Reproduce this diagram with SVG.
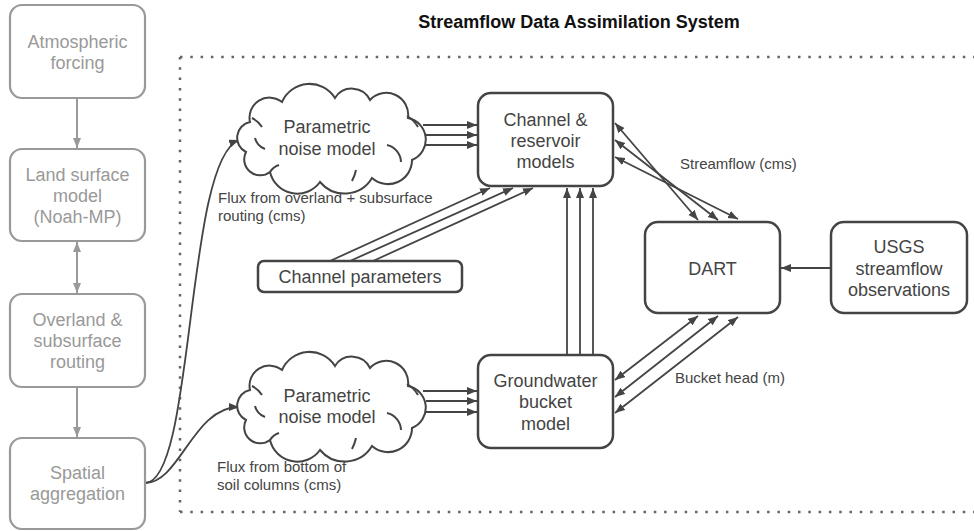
<svg xmlns="http://www.w3.org/2000/svg" width="974" height="531" viewBox="0 0 974 531">
<style>
text{font-family:"Liberation Sans",Arial,sans-serif;}
.gbox{fill:#fff;stroke:#999;stroke-width:2.2;}
.gtxt{fill:#999;font-size:18px;text-anchor:middle;}
.box{fill:#fff;stroke:#444;stroke-width:2.5;}
.txt{fill:#444;font-size:18px;text-anchor:middle;}
.lbl{fill:#444;font-size:15px;}
.cloud{fill:#fff;stroke:#444;stroke-width:2;}
.inner{fill:none;stroke:#444;stroke-width:2;}
.c{fill:none;stroke:#444;stroke-width:1.8;marker-end:url(#ah);}
.cd{fill:none;stroke:#444;stroke-width:1.8;marker-end:url(#ah);marker-start:url(#ah);}
.gc{fill:none;stroke:#999;stroke-width:2;marker-end:url(#gah);}
.gcd{fill:none;stroke:#999;stroke-width:2;marker-end:url(#gah);marker-start:url(#gah);}
</style>
<defs>
<marker id="ah" markerUnits="userSpaceOnUse" markerWidth="11" markerHeight="9" refX="10" refY="4" orient="auto-start-reverse"><path d="M0,0 L10,4 L0,8 z" fill="#444"/></marker>
<marker id="gah" markerUnits="userSpaceOnUse" markerWidth="11" markerHeight="9" refX="10" refY="4" orient="auto-start-reverse"><path d="M0,0 L10,4 L0,8 z" fill="#999"/></marker>
<g id="cloudshape">
<path class="cloud" d="M246,152 A16,16 0 0 1 250,122 A20,20 0 0 1 282,102 A30,30 0 0 1 335,98 A20,20 0 0 1 370,100 A22,22 0 0 1 408,118 A22,22 0 0 1 412,160 A24,24 0 0 1 372,178 A32,32 0 0 1 320,182 A28,28 0 0 1 270,172 A16,16 0 0 1 246,152 Z"/>
<path class="inner" d="M255,138 Q257,146 265,149 M252,118 Q258,121 262,127 M387,145 A18,18 0 0 1 401,162 M407,116 Q414,120 418,127 M270,172 Q273,167 279,165 M352,181 Q355,175 356,170"/>
</g>
</defs>
<text x="579" y="28" style="font-weight:bold;font-size:18px;fill:#111;text-anchor:middle;">Streamflow Data Assimilation System</text>
<path d="M180,57 H974 M180,57 V512 M180,512 H974" fill="none" stroke="#666" stroke-width="2.5" stroke-dasharray="2.5 7.8"/>
<g id="connectors">
<path class="gc" d="M77,98 V148"/>
<path class="gcd" d="M77,242 V293"/>
<path class="gc" d="M77,388 V437"/>
<path class="c" d="M145,483 C195,483 185,160 239,140"/>
<path class="c" d="M145,483 C180,483 193,407 239,407"/>
<path class="c" d="M423,125 H477"/>
<path class="c" d="M426,135 H477"/>
<path class="c" d="M426,145 H477"/>
<path class="c" d="M423,391 H477"/>
<path class="c" d="M426,401 H477"/>
<path class="c" d="M426,412 H477"/>
<path class="c" d="M330,261 L490,188"/>
<path class="c" d="M350,261 L513,188"/>
<path class="c" d="M373,261 L533,188"/>
<path class="c" d="M567,354 V188"/>
<path class="c" d="M580,354 V188"/>
<path class="c" d="M593,354 V188"/>
<path class="cd" d="M615,123 L698,220"/>
<path class="cd" d="M615,140 L718,220"/>
<path class="cd" d="M615,157 L738,219"/>
<path class="cd" d="M698,316 L615,380"/>
<path class="cd" d="M718,316 L615,397"/>
<path class="cd" d="M738,317 L615,413"/>
<path class="c" d="M830,268 H781"/>
<text class="lbl" x="218" y="203">Flux from overland + subsurface</text>
<text class="lbl" x="218" y="221">routing (cms)</text>
<text class="lbl" x="217" y="472">Flux from bottom of</text>
<text class="lbl" x="217" y="490">soil columns (cms)</text>
<text class="lbl" x="680" y="169">Streamflow (cms)</text>
<text class="lbl" x="675" y="383">Bucket head (m)</text>
</g>
<g id="atm"><rect class="gbox" x="10" y="5" width="135" height="93" rx="12"/><text class="gtxt" x="77.5" y="48">Atmospheric</text><text class="gtxt" x="77.5" y="69">forcing</text></g>
<g id="lsm"><rect class="gbox" x="10" y="149" width="135" height="92" rx="12"/><text class="gtxt" x="77.5" y="181">Land surface</text><text class="gtxt" x="77.5" y="202">model</text><text class="gtxt" x="77.5" y="223">(Noah-MP)</text></g>
<g id="overland"><rect class="gbox" x="10" y="294" width="135" height="93" rx="12"/><text class="gtxt" x="77.5" y="326">Overland &amp;</text><text class="gtxt" x="77.5" y="347">subsurface</text><text class="gtxt" x="77.5" y="368">routing</text></g>
<g id="spatial"><rect class="gbox" x="10" y="438" width="135" height="91" rx="12"/><text class="gtxt" x="77.5" y="479">Spatial</text><text class="gtxt" x="77.5" y="500">aggregation</text></g>
<g id="cloud1"><use href="#cloudshape"/><text class="txt" x="327" y="133">Parametric</text><text class="txt" x="327" y="155">noise model</text></g>
<g id="cloud2"><use href="#cloudshape" transform="translate(0,268)"/><text class="txt" x="327" y="402">Parametric</text><text class="txt" x="327" y="423">noise model</text></g>
<g id="channel"><rect class="box" x="478" y="93" width="135" height="93" rx="13"/><text class="txt" x="545.5" y="126">Channel &amp;</text><text class="txt" x="545.5" y="147">reservoir</text><text class="txt" x="545.5" y="168">models</text></g>
<g id="params"><rect class="box" x="258" y="261" width="204" height="31" rx="6"/><text class="txt" x="360" y="283">Channel parameters</text></g>
<g id="dart"><rect class="box" x="645" y="222" width="135" height="91" rx="13"/><text class="txt" x="712.5" y="275">DART</text></g>
<g id="usgs"><rect class="box" x="831" y="222" width="136" height="91" rx="13"/><text class="txt" x="899" y="253">USGS</text><text class="txt" x="899" y="275">streamflow</text><text class="txt" x="899" y="296">observations</text></g>
<g id="groundwater"><rect class="box" x="478" y="355" width="135" height="93" rx="13"/><text class="txt" x="545.5" y="387">Groundwater</text><text class="txt" x="545.5" y="408">bucket</text><text class="txt" x="545.5" y="430">model</text></g>
</svg>
